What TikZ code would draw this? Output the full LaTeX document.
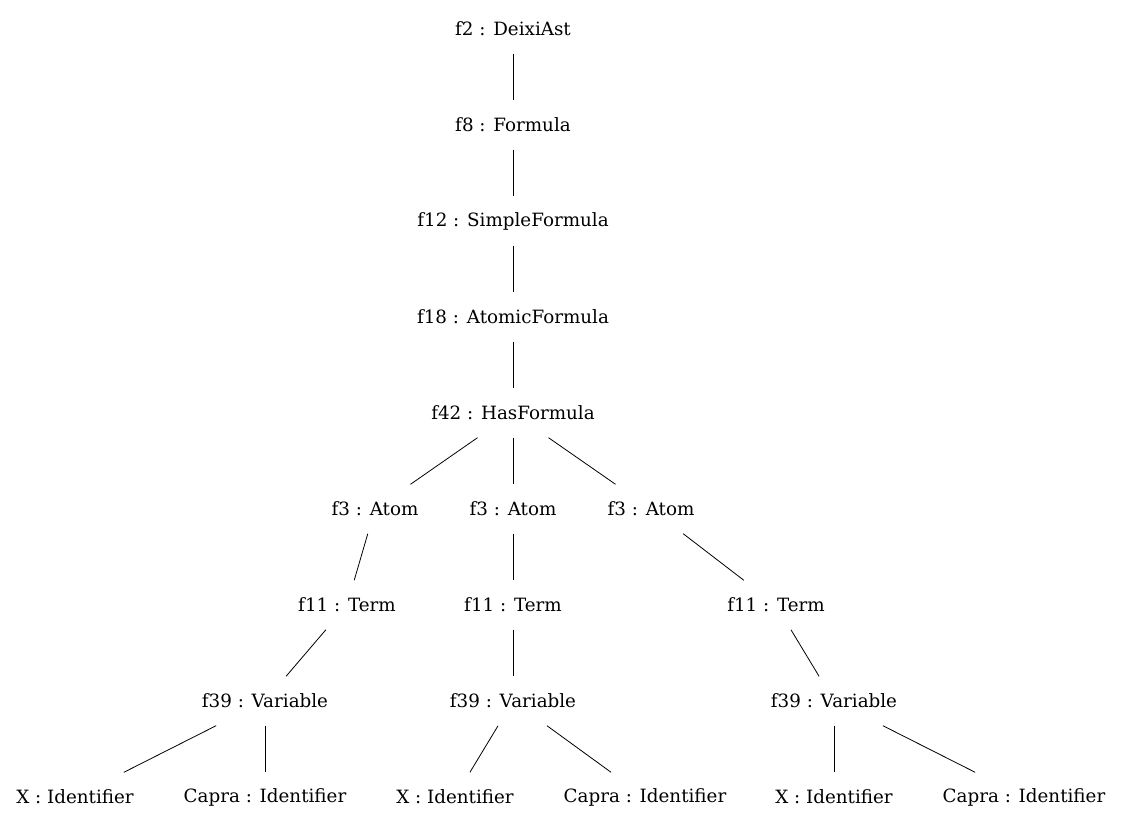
\documentclass[tikz,border=0pt]{standalone}
\usepackage{fontspec}
\setmainfont{DejaVu Serif}
\begin{document}
\begin{tikzpicture}[x=1pt,y=-1pt,
  tn/.style={rectangle, minimum height=49pt, inner xsep=8pt, inner ysep=0pt,
             font=\fontsize{18.3}{21}\selectfont},
  link/.style={draw=black, line width=0.8pt}]
\useasboundingbox (0,0) rectangle (1122,827);
% chain from the root down to the has-formula node
\node[tn] (f2)  at (513,29)  {f2 : DeixiAst};
\node[tn] (f8)  at (513,125) {f8 : Formula};
\node[tn] (f12) at (513,221) {f12 : SimpleFormula};
\node[tn] (f18) at (513,317) {f18 : AtomicFormula};
\node[tn] (f42) at (513,413) {f42 : HasFormula};
% atoms
\node[tn] (a1) at (375,509) {f3 : Atom};
\node[tn] (a2) at (513,509) {f3 : Atom};
\node[tn] (a3) at (651,509) {f3 : Atom};
% terms
\node[tn] (t1) at (347,605) {f11 : Term};
\node[tn] (t2) at (513,605) {f11 : Term};
\node[tn] (t3) at (776,605) {f11 : Term};
% variables
\node[tn] (v1) at (265,701) {f39 : Variable};
\node[tn] (v2) at (513,701) {f39 : Variable};
\node[tn] (v3) at (834,701) {f39 : Variable};
% identifiers
\node[tn] (x1) at (75,797)   {X : Identifier};
\node[tn] (c1) at (265,797)  {Capra : Identifier};
\node[tn] (x2) at (455,797)  {X : Identifier};
\node[tn] (c2) at (645,797)  {Capra : Identifier};
\node[tn] (x3) at (834,797)  {X : Identifier};
\node[tn] (c3) at (1024,797) {Capra : Identifier};
% edges
\draw[link] (f2) -- (f8);
\draw[link] (f8) -- (f12);
\draw[link] (f12) -- (f18);
\draw[link] (f18) -- (f42);
\draw[link] (f42) -- (a1);
\draw[link] (f42) -- (a2);
\draw[link] (f42) -- (a3);
\draw[link] (a1) -- (t1);
\draw[link] (a2) -- (t2);
\draw[link] (a3) -- (t3);
\draw[link] (t1) -- (v1);
\draw[link] (t2) -- (v2);
\draw[link] (t3) -- (v3);
\draw[link] (v1) -- (x1);
\draw[link] (v1) -- (c1);
\draw[link] (v2) -- (x2);
\draw[link] (v2) -- (c2);
\draw[link] (v3) -- (x3);
\draw[link] (v3) -- (c3);
\end{tikzpicture}
\end{document}
